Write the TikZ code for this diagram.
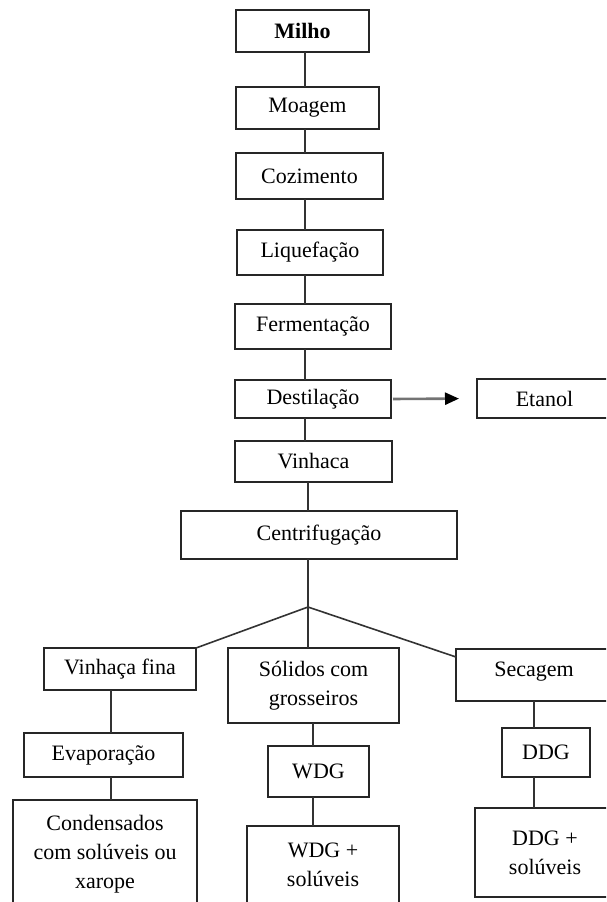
\documentclass[tikz,border=0pt]{standalone}
\usepackage{fontspec}
\setmainfont{Liberation Serif}
\usetikzlibrary{arrows.meta}
\tikzset{
  procbox/.style={draw=black!85,line width=1.6pt,align=center,inner sep=0pt,outer sep=0pt,anchor=north west,font=\fontsize{22}{29}\selectfont},
  joinline/.style={line width=1.6pt,draw=black!80},
  outarrow/.style={-{Triangle[length=14pt,width=12pt,color=black]},line width=2.6pt,draw=black!55,shorten <=2pt,shorten >=18pt}
}
\begin{document}
\begin{tikzpicture}[x=1pt,y=-1pt]
\useasboundingbox (0,0) rectangle (606,902);
\clip (0,0) rectangle (606,902);
\node[procbox,minimum width=133pt,minimum height=42pt,font=\fontsize{22}{29}\selectfont\bfseries] (milho) at (236,10) {Milho};
\node[procbox,minimum width=143pt,minimum height=42pt] (moagem) at (236,87) {Moagem};
\node[procbox,minimum width=147pt,minimum height=46pt] (cozim) at (236,153) {Cozimento};
\node[procbox,minimum width=146pt,minimum height=45pt] (liquef) at (237,230) {Liquefação};
\node[procbox,minimum width=156pt,minimum height=45pt] (ferment) at (235,304) {Fermentação};
\node[procbox,minimum width=156pt,minimum height=38pt] (destil) at (235,380) {Destilação};
\node[procbox,minimum width=135pt,minimum height=39pt] (etanol) at (477,379) {Etanol};
\node[procbox,minimum width=157pt,minimum height=41pt] (vinhaca) at (235,441) {Vinhaca};
\node[procbox,minimum width=276pt,minimum height=48pt] (centrif) at (181,511) {Centrifugação};
\node[procbox,minimum width=152pt,minimum height=42pt] (vfina) at (44,648) {Vinhaça fina};
\node[procbox,minimum width=171pt,minimum height=75pt] (solidos) at (228,648) {Sólidos com\\grosseiros};
\node[procbox,minimum width=156pt,minimum height=52pt,text height=16pt,text depth=14pt] (secagem) at (456,649) {Secagem};
\node[procbox,minimum width=159pt,minimum height=44pt] (evap) at (24,733) {Evaporação};
\node[procbox,minimum width=184pt,minimum height=108pt] (conden) at (13,800) {Condensados\\com solúveis ou\\xarope};
\node[procbox,minimum width=101pt,minimum height=51pt] (wdg) at (268,746) {WDG};
\node[procbox,minimum width=152pt,minimum height=78pt] (wdgsol) at (247,826) {WDG +\\solúveis};
\node[procbox,minimum width=88pt,minimum height=49pt] (ddg) at (502,728) {DDG};
\node[procbox,minimum width=140pt,minimum height=89pt] (ddgsol) at (475,808) {DDG +\\solúveis};
\coordinate (spine) at (305,0);
\coordinate (split) at (308,607);
\coordinate (lcol) at (111,0);
\coordinate (mcol) at (313,0);
\coordinate (rcol) at (534,0);
\draw[joinline] (spine |- milho.south) -- (spine |- moagem.north);
\draw[joinline] (spine |- moagem.south) -- (spine |- cozim.north);
\draw[joinline] (spine |- cozim.south) -- (spine |- liquef.north);
\draw[joinline] (spine |- liquef.south) -- (spine |- ferment.north);
\draw[joinline] (spine |- ferment.south) -- (spine |- destil.north);
\draw[joinline] (spine |- destil.south) -- (spine |- vinhaca.north);
\draw[joinline] (split |- vinhaca.south) -- (split |- centrif.north);
\draw[outarrow] (destil.east) -- (etanol.west);
\draw[joinline] (split |- centrif.south) -- (split);
\draw[joinline] (split) -- (vfina.north east);
\draw[joinline] (split) -- (split |- solidos.north);
\draw[joinline] (split) -- ([yshift=-8pt]secagem.north west);
\draw[joinline] (lcol |- vfina.south) -- (lcol |- evap.north);
\draw[joinline] (lcol |- evap.south) -- (lcol |- conden.north);
\draw[joinline] (mcol |- solidos.south) -- (mcol |- wdg.north);
\draw[joinline] (mcol |- wdg.south) -- (mcol |- wdgsol.north);
\draw[joinline] (rcol |- secagem.south) -- (rcol |- ddg.north);
\draw[joinline] (rcol |- ddg.south) -- (rcol |- ddgsol.north);
\end{tikzpicture}
\end{document}
